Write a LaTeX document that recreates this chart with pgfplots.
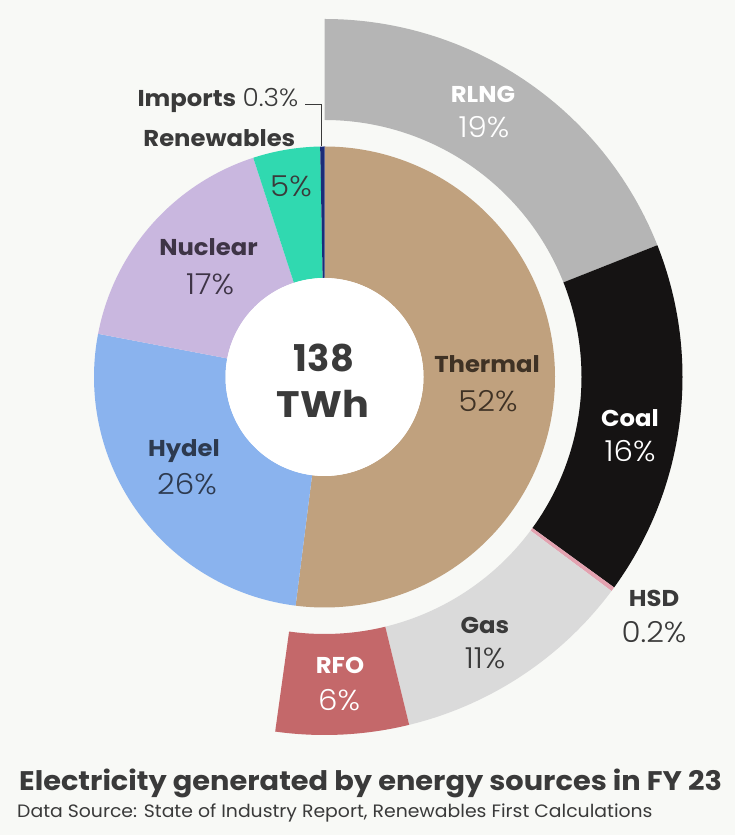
\documentclass[border=0pt]{standalone}
\usepackage{pgfplots}
\pgfplotsset{compat=1.18}
\usepackage{pgfplotstable}
\usepackage{fontspec}
\setmainfont{Poppins}
\newfontfamily\plight{Poppins Light}

\definecolor{bg}{HTML}{F8F9F6}
\definecolor{cThermal}{HTML}{C0A17E}
\definecolor{cHydel}{HTML}{8AB3EE}
\definecolor{cNuclear}{HTML}{C9B7DF}
\definecolor{cRenew}{HTML}{30D9B0}
\definecolor{cImports}{HTML}{1B2C78}
\definecolor{cRLNG}{HTML}{B5B5B5}
\definecolor{cCoal}{HTML}{151313}
\definecolor{cHSD}{HTML}{E3A2B0}
\definecolor{cGas}{HTML}{DADADA}
\definecolor{cRFO}{HTML}{C4686A}
\definecolor{cHole}{HTML}{FFFFFF}
\definecolor{txt}{HTML}{3A3A3A}
\definecolor{txtNuc}{HTML}{3E3446}
\definecolor{txtHyd}{HTML}{2D3A4F}
\definecolor{txtTh}{HTML}{3F3225}

% start (% cumulative, clockwise from top), value (%), inner radius, outer radius, colour
\pgfplotstableread{
start value r R col
0 52 99 230.5 cThermal
52 26 99 230.5 cHydel
78 17 99 230.5 cNuclear
95 4.7 99 230.5 cRenew
99.7 0.3 99 230.5 cImports
0 19 257 358 cRLNG
19 16 257 358 cCoal
35 0.2 257 358 cHSD
35.2 11 257 358 cGas
46.2 6 257 358 cRFO
0 100 0 99 cHole
}\sectors

\newcommand\nm[1]{{\fontsize{23}{23}\selectfont\bfseries #1}}
\newcommand\pc[1]{{\fontsize{29}{29}\selectfont\plight #1}}

\begin{document}
\begin{tikzpicture}[nml/.style={xscale=1.06}, pcl/.style={xscale=1.07}]
\begin{axis}[
  width=735bp, height=835bp, scale only axis,
  xmin=0, xmax=735, ymin=0, ymax=835,
  hide axis, clip=false,
]
\addplot[fill=bg, draw=none] coordinates {(0,0) (735,0) (735,835) (0,835)} -- cycle;

\pgfplotsforeachungrouped \i in {0,...,10}{%
  \pgfplotstablegetelem{\i}{start}\of\sectors \let\ss\pgfplotsretval
  \pgfplotstablegetelem{\i}{value}\of\sectors \let\vv\pgfplotsretval
  \pgfplotstablegetelem{\i}{r}\of\sectors \let\rr\pgfplotsretval
  \pgfplotstablegetelem{\i}{R}\of\sectors \let\RR\pgfplotsretval
  \pgfplotstablegetelem{\i}{col}\of\sectors \let\cc\pgfplotsretval
  \edef\doplot{\noexpand\addplot[fill=\cc, draw=none, samples at={0,...,401}, variable=\noexpand\t]
    ({324.5 + ((\noexpand\t<200.5) ? \RR : \rr)*cos(90-3.6*(\ss + \vv*((\noexpand\t<200.5) ? \noexpand\t : (401-\noexpand\t))/200))},
     {458 + ((\noexpand\t<200.5) ? \RR : \rr)*sin(90-3.6*(\ss + \vv*((\noexpand\t<200.5) ? \noexpand\t : (401-\noexpand\t))/200))});}%
  \doplot
}

% leader for Imports
\addplot[draw=txt, line width=1bp] coordinates {(305,730) (321.5,730) (321.5,689)};

% labels
\node[anchor=base east, text=txt, nml] at (axis cs:302,728) {\nm{Imports}\hspace{6bp}\fontsize{25}{25}\selectfont\plight 0.3\%};
\node[anchor=base east, text=txt, nml] at (axis cs:299,688) {\nm{Renewables}};
\node[anchor=base, text=txt, pcl] at (axis cs:291,638) {\pc{5\%}};
\node[anchor=base, text=txtNuc, nml] at (axis cs:208.5,579) {\nm{Nuclear}};
\node[anchor=base, text=txtNuc, pcl] at (axis cs:210,540) {\pc{17\%}};
\node[anchor=base, text=txtHyd, nml] at (axis cs:184,378) {\nm{Hydel}};
\node[anchor=base, text=txtHyd, pcl] at (axis cs:187,340) {\pc{26\%}};
\node[anchor=base, text=txtTh, nml] at (axis cs:487,462) {\nm{Thermal}};
\node[anchor=base, text=txtTh, pcl] at (axis cs:488,423) {\pc{52\%}};
\node[anchor=base, text=txt] at (axis cs:324,463) {\fontsize{37}{37}\selectfont\bfseries 138};
\node[anchor=base, text=txt, xscale=1.08] at (axis cs:323,417) {\fontsize{37}{37}\selectfont\bfseries TWh};
\node[anchor=base, text=white, nml] at (axis cs:483,732) {\nm{RLNG}};
\node[anchor=base, text=white, pcl] at (axis cs:484,697) {\pc{19\%}};
\node[anchor=base, text=white, nml] at (axis cs:630,408) {\nm{Coal}};
\node[anchor=base, text=white, pcl] at (axis cs:630,373) {\pc{16\%}};
\node[anchor=base, text=txt, nml] at (axis cs:654,228) {\nm{HSD}};
\node[anchor=base, text=txt, pcl] at (axis cs:654,192) {\pc{0.2\%}};
\node[anchor=base, text=txt, nml] at (axis cs:485,201) {\nm{Gas}};
\node[anchor=base, text=txt, pcl] at (axis cs:485,166) {\pc{11\%}};
\node[anchor=base, text=white, nml] at (axis cs:340,161) {\nm{RFO}};
\node[anchor=base, text=white, pcl] at (axis cs:339,124) {\pc{6\%}};

% title
\node[anchor=base west, text=txt, inner sep=0pt, xscale=1.071] at (axis cs:19,44) {\fontsize{27}{27}\selectfont\bfseries Electricity generated by energy sources in FY 23};
\node[anchor=base west, text=txt, inner sep=0pt, xscale=1.05] at (axis cs:17,18) {\fontsize{18}{18}\selectfont Data Source: State of Industry Report, Renewables First Calculations};
\end{axis}
\end{tikzpicture}
\end{document}
